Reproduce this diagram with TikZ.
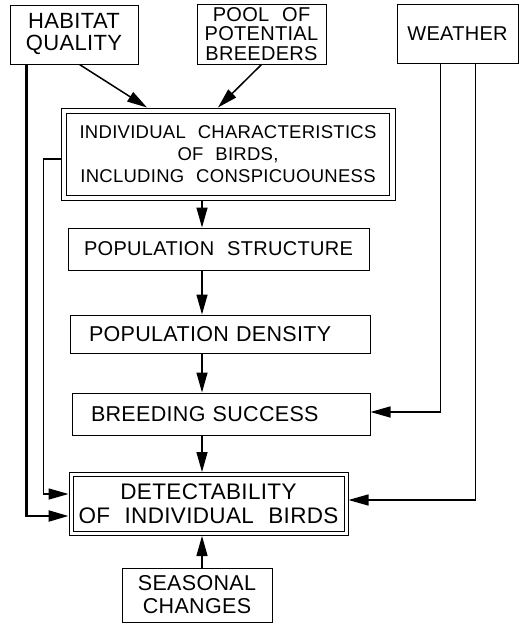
\documentclass[tikz,border=0pt]{standalone}
\usepackage{fontspec}
\setmainfont{Liberation Sans}[LetterSpace=1.5,WordSpace=2.2]
\usetikzlibrary{arrows.meta}
\newcommand{\fs}[2]{\fontsize{#1}{#2}\selectfont}
\tikzset{
  box/.style={draw, line width=1pt, inner sep=0pt, align=center},
  arr/.style={line width=1.5pt, -{Triangle[length=20pt,width=11pt]}}
}

\begin{document}
\begin{tikzpicture}[x=1pt,y=-1pt]
\useasboundingbox (0,0) rectangle (521,624);

\node[box, minimum width=128pt, minimum height=59pt, font=\fs{22}{22}] (hab) at (74,34.5) {HABITAT\\QUALITY};
\node[box, minimum width=129pt, minimum height=60pt, font=\fs{20}{19.5}] (pool) at (261.5,34) {POOL OF\\POTENTIAL\\BREEDERS};
\node[box, minimum width=121pt, minimum height=59pt, font=\fs{20}{22}] (weather) at (457.5,33.5) {WEATHER};

\node[box, minimum width=334pt, minimum height=92pt, font=\fs{18.5}{22}] (chars) at (228,154)
  {INDIVIDUAL CHARACTERISTICS\\OF BIRDS,\\INCLUDING CONSPICUOUNESS};
\draw[line width=1pt] ([shift={(6pt,-5.5pt)}]chars.north west) rectangle ([shift={(-6pt,5.5pt)}]chars.south east);
\node[box, minimum width=301pt, minimum height=42pt, font=\fs{20}{22}] (popstruct) at (218.5,249) {POPULATION STRUCTURE};
\node[box, align=left, text width=262pt, inner xsep=19pt, minimum height=38pt, font=\fs{21.5}{22}] (popdens) at (220,334) {POPULATION DENSITY};
\node[box, align=left, text width=260pt, inner xsep=19pt, minimum height=42pt, font=\fs{21.5}{22}] (breed) at (221,414) {BREEDING SUCCESS};
\node[box, minimum width=279pt, minimum height=63pt, font=\fs{22.5}{24}] (detect) at (208.5,504)
  {DETECTABILITY\\OF INDIVIDUAL BIRDS};
\draw[line width=1pt] ([shift={(4.5pt,-4.5pt)}]detect.north west) rectangle ([shift={(-4.5pt,4.5pt)}]detect.south east);
\node[box, minimum width=150pt, minimum height=54pt, font=\fs{21.5}{23}] (seasonal) at (197,595) {SEASONAL\\CHANGES};

\coordinate (spine) at (202,0);

\draw[arr] ([xshift=70pt]hab.south west) -- ([xshift=-81pt]chars.north);
\draw[arr] ([xshift=65pt]pool.south west) -- ([xshift=-10pt]chars.north);
\draw[arr] (chars.south -| spine) -- (popstruct.north -| spine);
\draw[arr] (popstruct.south -| spine) -- (popdens.north -| spine);
\draw[arr] (popdens.south -| spine) -- (breed.north -| spine);
\draw[arr] (breed.south -| spine) -- (detect.north -| spine);
\draw[arr] (seasonal.north -| spine) -- (detect.south -| spine);
\draw[arr, line width=2.2pt] ([xshift=17pt]hab.south west) |- ([yshift=-12pt]detect.west);
\draw[arr] ([yshift=-5pt]chars.west) -- ++(-17,0) |- ([yshift=10pt]detect.west);
\draw[arr] ([xshift=44pt]weather.south west) |- ([yshift=2pt]breed.east);
\draw[arr] ([xshift=79pt]weather.south west) |- ([yshift=4pt]detect.east);
\end{tikzpicture}
\end{document}
